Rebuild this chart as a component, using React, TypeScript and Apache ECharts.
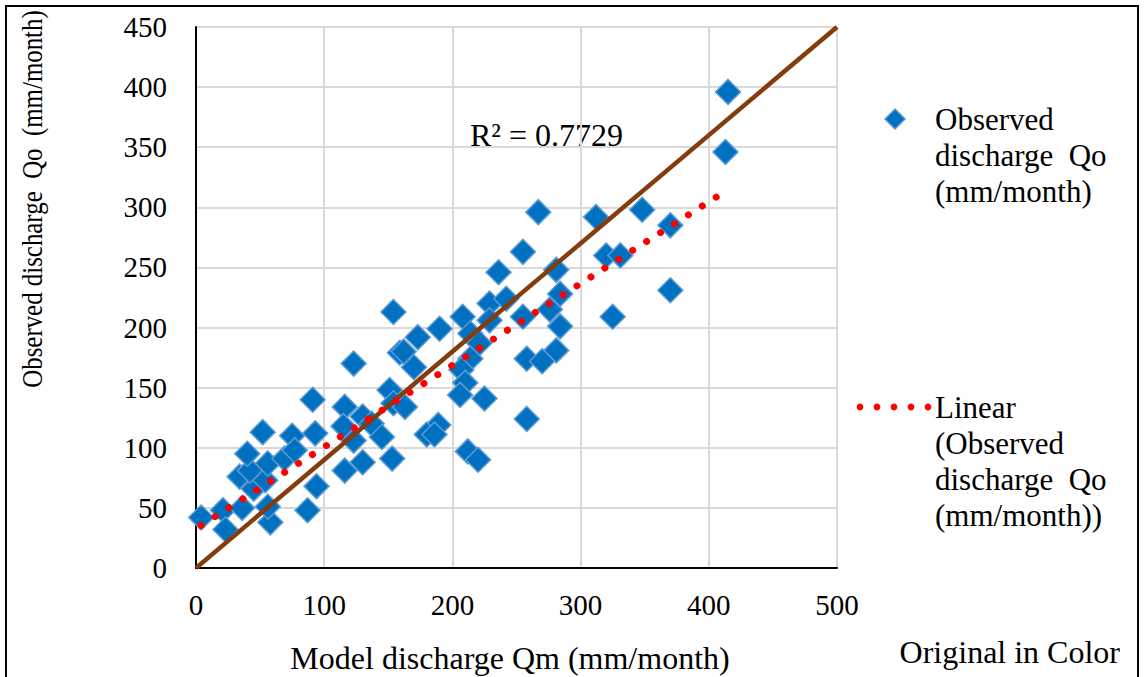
import React, { useEffect, useRef } from "react";
import * as echarts from "echarts";

// Model discharge Qm (x) and observed discharge Qo (y), mm/month
const modelQm: number[] = [
  4, 21, 23, 36, 58, 56, 87, 94, 34, 45, 54, 56, 42, 40, 52, 69, 75, 77, 91, 93,
  116, 123, 116, 130, 153, 154, 123, 130, 115, 137, 145, 151, 159, 154,
  267, 255, 236, 281, 173, 162, 170, 190, 208, 229, 242, 255, 276, 284, 284, 281,
  258, 270, 325, 312, 320, 331, 214, 221, 229, 214, 207, 210, 206, 225, 258, 189,
  180, 186, 212, 220, 163, 415, 413, 348, 370, 370,
];
const observedQo: number[] = [
  42, 48, 32, 50, 38, 51, 48, 68, 76, 66, 73, 87, 81, 95, 113, 91, 110, 98, 140, 112,
  134, 170, 81, 88, 91, 213, 106, 126, 118, 120, 109, 148, 179, 137,
  296, 263, 246, 248, 192, 180, 167, 199, 209, 220, 224, 209, 215, 228, 201, 181,
  174, 172, 209, 292, 260, 260, 195, 187, 206, 174, 165, 154, 144, 141, 124, 119,
  111, 111, 97, 90, 134, 396, 346, 298, 285, 231,
];
// Linear trend
const trendSlope = 0.68;
const trendIntercept = 32.6;
const rSquaredLabel = "R² = 0.7729";
// Reference line endpoints
const refLine: number[][] = [
  [0, 0],
  [500, 450],
];
const xTicks = { min: 0, max: 500, interval: 100 };
const yTicks = { min: 0, max: 450, interval: 50 };

const FONT = "'Liberation Serif', 'Times New Roman', serif";

export default function App() {
  const ref = useRef<HTMLDivElement>(null);
  useEffect(() => {
    if (!ref.current) return;
    const chart = echarts.init(ref.current, undefined, { renderer: "svg" });
    const scatter = modelQm.map((x, i) => [x, observedQo[i]]);
    const xMin = Math.min(...modelQm);
    const xMax = Math.max(...modelQm);
    const trend = [
      [xMin, trendSlope * xMin + trendIntercept],
      [xMax, trendSlope * xMax + trendIntercept],
    ];
    const grid = { left: 196, top: 27, right: 310, bottom: 109 };
    chart.setOption({
      animation: false,
      backgroundColor: "#fff",
      textStyle: { fontFamily: FONT },
      grid: { ...grid, containLabel: false },
      xAxis: {
        type: "value",
        min: xTicks.min,
        max: xTicks.max,
        interval: xTicks.interval,
        axisLine: { show: true, onZero: false, lineStyle: { color: "#000", width: 2 } },
        axisTick: { show: false },
        axisLabel: { color: "#000", fontSize: 29, fontFamily: FONT, margin: 22 },
        splitLine: { show: true, lineStyle: { color: "#D9D9D9", width: 2 } },
      },
      yAxis: {
        type: "value",
        min: yTicks.min,
        max: yTicks.max,
        interval: yTicks.interval,
        axisLine: { show: true, onZero: false, lineStyle: { color: "#000", width: 2 } },
        axisTick: { show: false },
        axisLabel: { color: "#000", fontSize: 29, fontFamily: FONT, margin: 29 },
        splitLine: { show: true, lineStyle: { color: "#D9D9D9", width: 2 } },
      },
      series: [
        {
          name: "Observed discharge  Qo (mm/month)",
          type: "scatter",
          symbol: "diamond",
          symbolSize: 25,
          data: scatter,
          itemStyle: { color: "#0070C0", borderColor: "#5B9BD5", borderWidth: 1.5, opacity: 1 },
          z: 3,
        },
        {
          name: "Reference",
          type: "line",
          data: refLine,
          showSymbol: false,
          symbol: "none",
          lineStyle: { color: "#843C0C", width: 4.5 },
          z: 4,
        },
        {
          name: "Linear (Observed discharge  Qo (mm/month))",
          type: "line",
          data: trend,
          showSymbol: false,
          symbol: "none",
          lineStyle: { color: "#FF0000", width: 7, type: [0.01, 16.5], cap: "round" },
          z: 5,
        },
      ],
      graphic: [
        {
          type: "rect",
          shape: { x: 6, y: 6, width: 1132, height: 700 },
          style: { fill: "none", stroke: "#000", lineWidth: 2 },
          z: 100,
        },
        {
          type: "text",
          x: 32,
          y: 199,
          rotation: Math.PI / 2,
          scaleX: 0.83,
          style: {
            text: "Observed discharge  Qo  (mm/month)",
            font: `30px ${FONT}`,
            fill: "#000",
            align: "center",
            verticalAlign: "middle",
          },
        },
        {
          type: "text",
          x: 510,
          y: 658,
          style: {
            text: "Model discharge Qm (mm/month)",
            font: `32px ${FONT}`,
            fill: "#000",
            align: "center",
            verticalAlign: "middle",
          },
        },
        {
          type: "text",
          x: 470,
          y: 135,
          style: {
            text: rSquaredLabel,
            font: `32px ${FONT}`,
            fill: "#000",
            align: "left",
            verticalAlign: "middle",
          },
        },
        {
          type: "text",
          x: 1120,
          y: 652,
          style: {
            text: "Original in Color",
            font: `32px ${FONT}`,
            fill: "#000",
            align: "right",
            verticalAlign: "middle",
          },
        },
        {
          type: "polygon",
          shape: { points: [[895, 109], [905, 119], [895, 129], [885, 119]] },
          style: { fill: "#0070C0", stroke: "#5B9BD5", lineWidth: 1.5 },
        },
        {
          type: "text",
          x: 935,
          y: 101,
          style: {
            text: "Observed\ndischarge  Qo\n(mm/month)",
            font: `31px ${FONT}`,
            lineHeight: 36,
            fill: "#000",
            align: "left",
            verticalAlign: "top",
          },
        },
        ...[860, 877, 894, 911, 928].map((cx) => ({
          type: "circle",
          shape: { cx, cy: 407, r: 3.4 },
          style: { fill: "#FF0000" },
        })),
        {
          type: "text",
          x: 935,
          y: 389,
          style: {
            text: "Linear\n(Observed\ndischarge  Qo\n(mm/month))",
            font: `31px ${FONT}`,
            lineHeight: 36,
            fill: "#000",
            align: "left",
            verticalAlign: "top",
          },
        },
      ],
    });
    return () => chart.dispose();
  }, []);
  return (
    <div
      ref={ref}
      style={{ position: "fixed", left: 0, top: 0, width: 1147, height: 677 }}
    />
  );
}
